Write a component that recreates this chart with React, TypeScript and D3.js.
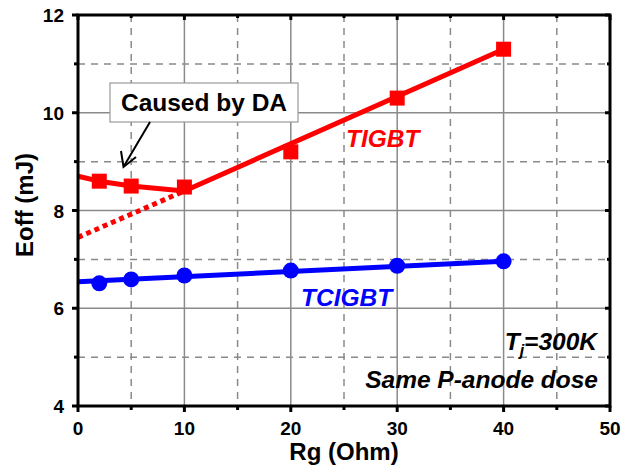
import React from "react";
import * as d3 from "d3";

const rgValues = [2, 5, 10, 20, 30, 40];
const tigbtValues = [8.6, 8.5, 8.48, 9.2, 10.3, 11.3];
const tcigbtValues = [6.51, 6.59, 6.67, 6.77, 6.87, 6.96];

const tigbtLineX = [0, 2, 5, 10, 40];
const tigbtLineY = [8.7, 8.6, 8.5, 8.4, 11.3];
const tigbtDotX = [0, 10];
const tigbtDotY = [7.45, 8.4];
const tcigbtLineX = [0, 40];
const tcigbtLineY = [6.54, 6.96];

const xTicks = [0, 10, 20, 30, 40, 50];
const xMinor = [5, 15, 25, 35, 45];
const yTicks = [4, 6, 8, 10, 12];
const yMinor = [5, 7, 9, 11];

const W = 633, H = 468;
const L = 78, R = 610, T = 15, B = 406;
const FONT = "'Liberation Sans', Arial, sans-serif";

export default function App() {
  const x = d3.scaleLinear().domain([0, 50]).range([L, R]);
  const y = d3.scaleLinear().domain([4, 12]).range([B, T]);
  const line = d3.line<[number, number]>().x(d => x(d[0])).y(d => y(d[1]));
  const zip = (a: number[], b: number[]) => a.map((v, i) => [v, b[i]] as [number, number]);

  const red = "#ff0000";
  const blue = "#0000ff";
  const grid = "#8a8a8a";

  return (
    <svg width={W} height={H} style={{ position: "absolute", left: 0, top: 0, background: "#fff" }} fontFamily={FONT}>
      {/* grid */}
      {xTicks.slice(1, -1).map(t => (
        <line key={"gx" + t} x1={x(t)} x2={x(t)} y1={T} y2={B} stroke={grid} strokeWidth={1.5} />
      ))}
      {xMinor.map(t => (
        <line key={"gxm" + t} x1={x(t)} x2={x(t)} y1={T} y2={B} stroke={grid} strokeWidth={1.5} strokeDasharray="7,6" />
      ))}
      {yTicks.slice(1, -1).map(t => (
        <line key={"gy" + t} x1={L} x2={R} y1={y(t)} y2={y(t)} stroke={grid} strokeWidth={1.5} />
      ))}
      {yMinor.map(t => (
        <line key={"gym" + t} x1={L} x2={R} y1={y(t)} y2={y(t)} stroke={grid} strokeWidth={1.5} strokeDasharray="7,6" />
      ))}

      {/* lines */}
      <path d={line(zip(tigbtDotX, tigbtDotY)) || ""} fill="none" stroke={red} strokeWidth={5} strokeDasharray="5,4" />
      <path d={line(zip(tigbtLineX, tigbtLineY)) || ""} fill="none" stroke={red} strokeWidth={5} strokeLinejoin="round" />
      <path d={line(zip(tcigbtLineX, tcigbtLineY)) || ""} fill="none" stroke={blue} strokeWidth={5} />

      {rgValues.map((r, i) => (
        <rect key={"s" + r} x={x(r) - 7.5} y={y(tigbtValues[i]) - 7.5} width={15} height={15} fill={red} />
      ))}
      {rgValues.map((r, i) => (
        <circle key={"c" + r} cx={x(r)} cy={y(tcigbtValues[i])} r={8} fill={blue} />
      ))}

      {/* axes frame */}
      <rect x={L} y={T} width={R - L} height={B - T} fill="none" stroke="#000" strokeWidth={3} />
      {xTicks.map(t => (
        <g key={"xt" + t}>
          <line x1={x(t)} x2={x(t)} y1={B} y2={B + 6} stroke="#000" strokeWidth={3} />
          <line x1={x(t)} x2={x(t)} y1={T} y2={T + 5} stroke="#000" strokeWidth={3} />
          <text x={x(t)} y={435} textAnchor="middle" fontSize={19} fontWeight="bold">{t}</text>
        </g>
      ))}
      {xMinor.map(t => (
        <g key={"xm" + t}>
          <line x1={x(t)} x2={x(t)} y1={B} y2={B + 4} stroke="#000" strokeWidth={3} />
          <line x1={x(t)} x2={x(t)} y1={T} y2={T + 3} stroke="#000" strokeWidth={3} />
        </g>
      ))}
      {yTicks.map(t => (
        <g key={"yt" + t}>
          <line x1={L - 6} x2={L} y1={y(t)} y2={y(t)} stroke="#000" strokeWidth={3} />
          <line x1={R - 5} x2={R} y1={y(t)} y2={y(t)} stroke="#000" strokeWidth={3} />
          <text x={64} y={y(t) + 7} textAnchor="end" fontSize={19} fontWeight="bold">{t}</text>
        </g>
      ))}
      {yMinor.map(t => (
        <g key={"ym" + t}>
          <line x1={L - 4} x2={L} y1={y(t)} y2={y(t)} stroke="#000" strokeWidth={3} />
          <line x1={R - 3} x2={R} y1={y(t)} y2={y(t)} stroke="#000" strokeWidth={3} />
        </g>
      ))}

      {/* axis titles */}
      <text x={344} y={460} textAnchor="middle" fontSize={24} fontWeight="bold">Rg (Ohm)</text>
      <text transform={`translate(33,205) rotate(-90)`} textAnchor="middle" fontSize={24} fontWeight="bold">Eoff (mJ)</text>

      {/* annotation box */}
      <rect x={110} y={83} width={188} height={39} fill="#fff" stroke="#999" strokeWidth={1.2} />
      <text x={204} y={111} textAnchor="middle" fontSize={24.5} fontWeight="bold">Caused by DA</text>
      <line x1={150} y1={122} x2={124} y2={166} stroke="#000" strokeWidth={2} />
      <path d="M121,151 L123.5,167 L136,157" fill="none" stroke="#000" strokeWidth={2} />

      {/* series labels */}
      <text x={346} y={147} fontSize={24.5} fontWeight="bold" fontStyle="italic" fill={red}>TIGBT</text>
      <text x={301} y={306} fontSize={24.5} fontWeight="bold" fontStyle="italic" fill={blue}>TCIGBT</text>

      <text x={597} y={350} textAnchor="end" fontSize={24.5} fontWeight="bold" fontStyle="italic">
        T<tspan fontSize={16} dy={6}>j</tspan><tspan dy={-6}>=300K</tspan>
      </text>
      <text x={598} y={388} textAnchor="end" fontSize={24.5} fontWeight="bold" fontStyle="italic">Same P-anode dose</text>
    </svg>
  );
}
